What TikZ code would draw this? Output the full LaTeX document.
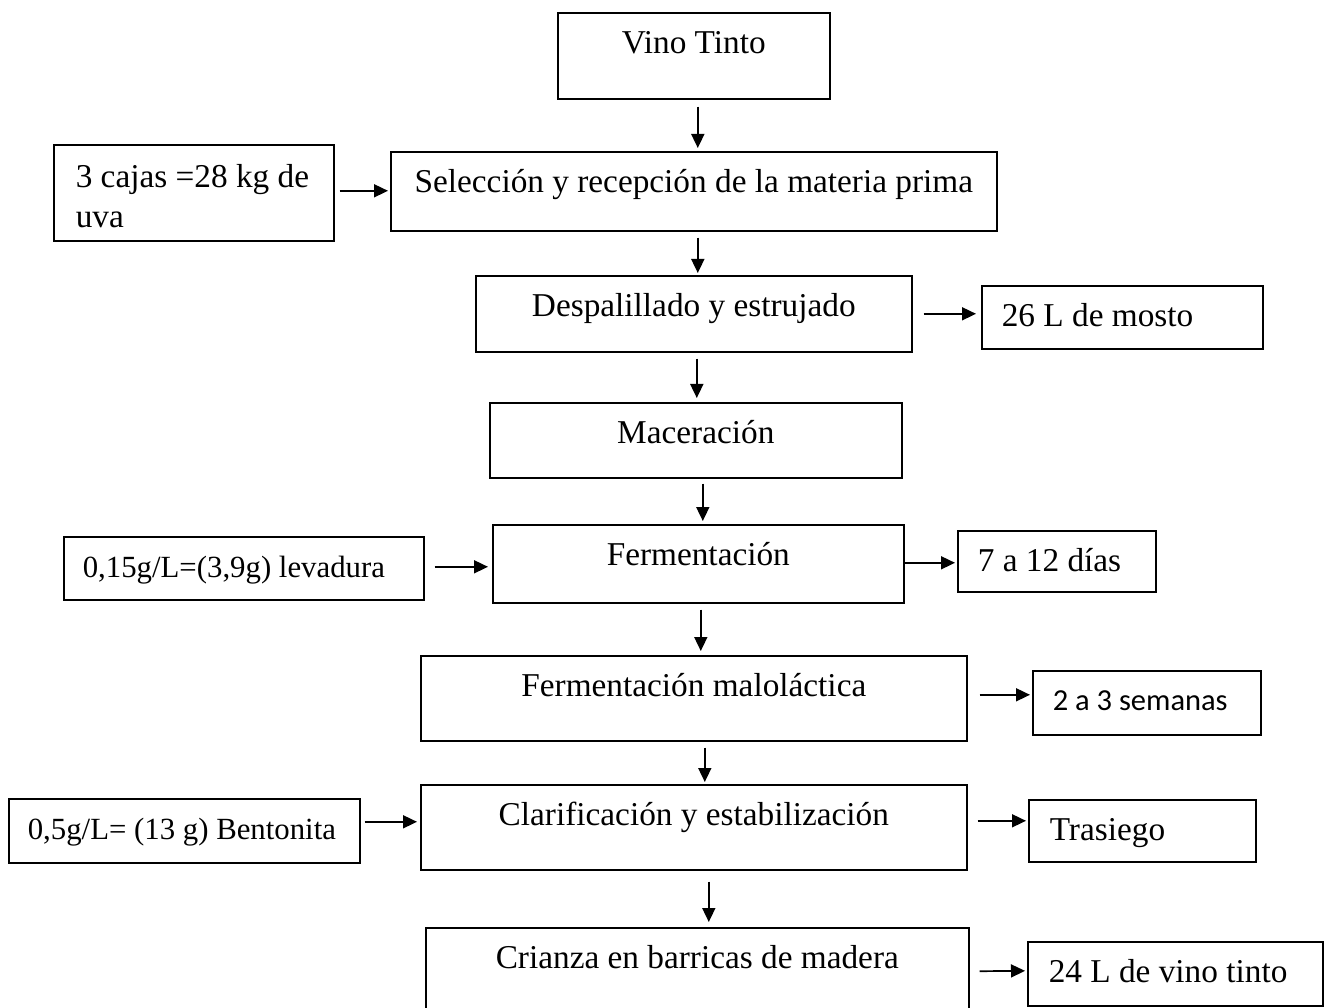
\documentclass[tikz,border=0pt]{standalone}
\usepackage{fontspec}
\setmainfont{Liberation Serif}
\newfontfamily\calibrifont{Carlito}
\usetikzlibrary{arrows.meta}

\tikzset{
  stage/.style={draw, line width=1.6pt, inner sep=0pt, anchor=north west,
    text height=41pt, font=\fontsize{33.3}{40}\selectfont},
  note/.style={stage, align=flush left},
  smallnote/.style={note, font=\fontsize{30.8}{36}\selectfont},
  flow/.style={line width=1.7pt, -{Triangle[length=14pt,width=13pt]}}
}

\begin{document}
\begin{tikzpicture}[x=1pt, y=-1pt]
  \useasboundingbox (0,0) rectangle (1326,1008);

  % main column
  \node[stage, minimum width=272pt, text depth=45pt] (vino) at (557,12) {Vino Tinto};
  \node[stage, minimum width=606pt, text depth=38pt] (sel) at (390,151) {Selección y recepción de la materia prima};
  \node[stage, minimum width=436pt, text depth=35pt] (desp) at (475,275) {Despalillado y estrujado};
  \node[stage, minimum width=412pt, text depth=34pt] (mac) at (489,402) {Maceración};
  \node[stage, minimum width=411pt, text depth=37pt] (ferm) at (492,524) {Fermentación};
  \node[stage, minimum width=546pt, text depth=44pt] (malo) at (420,655) {Fermentación maloláctica};
  \node[stage, minimum width=546pt, text depth=44pt] (clar) at (420,784) {Clarificación y estabilización};
  \node[stage, minimum width=543pt, text depth=60pt] (crianza) at (425,927) {Crianza en barricas de madera};

  % inputs
  \node[stage, text height=43pt, text depth=53pt] (cajas) at (53,144)
    {\parbox[t]{280pt}{\hspace*{22pt}3 cajas =28 kg de\\\hspace*{22pt}uva}};
  \node[smallnote, text width=360pt, text depth=22pt] (lev) at (63,536) {\hspace*{19pt}0,15g/L=(3,9g) levadura};
  \node[smallnote, text width=351pt, text depth=23pt] (bent) at (8,798) {\hspace*{19pt}0,5g/L= (13 g) Bentonita};

  % outputs
  \node[note, text width=281pt, text depth=22pt] (mosto) at (981,285) {\hspace*{20pt}26 L de mosto};
  \node[note, text width=198pt, text depth=20pt] (dias) at (957,530) {\hspace*{20pt}7 a 12 días};
  \node[note, text width=228pt, text height=40pt, text depth=24pt,
    font=\calibrifont\fontsize{30.5}{36}\selectfont] (sem) at (1032,670) {\hspace*{20pt}2 a 3 semanas};
  \node[note, text width=227pt, text depth=21pt] (tras) at (1028,799) {\hspace*{21pt}Trasiego};
  \node[note, text width=295pt, text depth=23pt] (vt24) at (1027,941) {\hspace*{21pt}24 L de vino tinto};

  % down the column
  \draw[flow, shorten <=7pt, shorten >=3pt] ([xshift=4pt]vino.south) -- ([xshift=4pt]sel.north);
  \draw[flow, shorten <=6pt, shorten >=2pt] ([xshift=4pt]sel.south) -- ([xshift=4pt]desp.north);
  \draw[flow, shorten <=6pt, shorten >=4pt] ([xshift=3pt]desp.south) -- ([xshift=1pt]mac.north);
  \draw[flow, shorten <=5pt, shorten >=3pt] ([xshift=7pt]mac.south) -- ([xshift=4.5pt]ferm.north);
  \draw[flow, shorten <=6pt, shorten >=4pt] ([xshift=2.5pt]ferm.south) -- ([xshift=7pt]malo.north);
  \draw[flow, shorten <=6pt, shorten >=2pt] ([xshift=11pt]malo.south) -- ([xshift=11pt]clar.north);
  \draw[flow, shorten <=11pt, shorten >=5pt] ([xshift=15pt]clar.south) -- ([xshift=11.5pt]crianza.north);

  % side arrows
  \draw[flow, shorten <=5pt, shorten >=2pt] ([yshift=2pt]cajas.east) -- ([yshift=0.5pt]sel.west);
  \draw[flow, shorten <=11pt, shorten >=5pt] (desp.east) -- ([yshift=3.5pt]mosto.west);
  \draw[flow, shorten <=10pt, shorten >=4pt] ([yshift=1.5pt]lev.east) -- ([yshift=-3pt]ferm.west);
  \draw[flow, shorten >=2pt] ([yshift=1pt]ferm.east) -- ([yshift=-1.5pt]dias.west);
  \draw[flow, shorten <=12pt, shorten >=2pt] ([yshift=3.5pt]malo.east) -- ([yshift=8pt]sem.west);
  \draw[flow, shorten <=4pt, shorten >=3pt] ([yshift=9pt]bent.east) -- ([yshift=5.5pt]clar.west);
  \draw[flow, shorten <=10pt, shorten >=2pt] ([yshift=6.5pt]clar.east) -- ([yshift=10pt]tras.west);
  \draw[flow, shorten <=10pt, shorten >=2pt] ([yshift=7pt]crianza.east) -- ([yshift=3pt]vt24.west);
\end{tikzpicture}
\end{document}
